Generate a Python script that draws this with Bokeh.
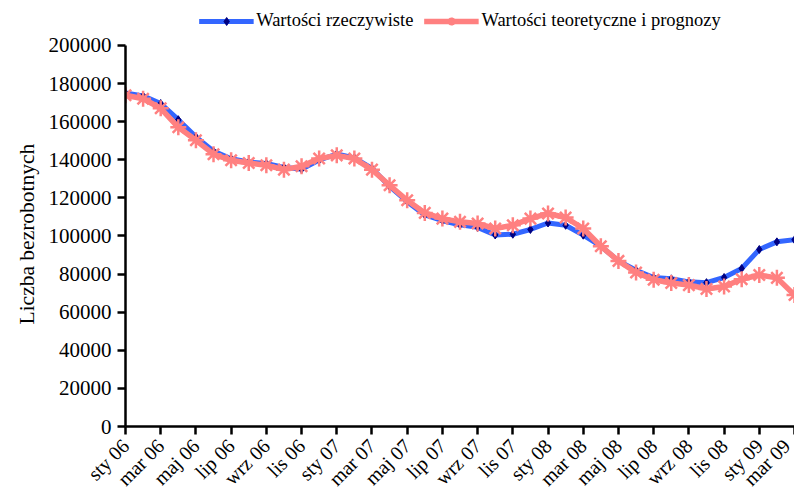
import math
from bokeh.plotting import figure
from bokeh.models import (Range1d, FixedTicker, Legend, LegendItem, Title,
                          NumeralTickFormatter, ColumnDataSource)
from bokeh.embed import file_html
from bokeh.resources import INLINE

# ---- data -------------------------------------------------------------
months = [
    "sty 06", "lut 06", "mar 06", "kwi 06", "maj 06", "cze 06",
    "lip 06", "sie 06", "wrz 06", "paź 06", "lis 06", "gru 06",
    "sty 07", "lut 07", "mar 07", "kwi 07", "maj 07", "cze 07",
    "lip 07", "sie 07", "wrz 07", "paź 07", "lis 07", "gru 07",
    "sty 08", "lut 08", "mar 08", "kwi 08", "maj 08", "cze 08",
    "lip 08", "sie 08", "wrz 08", "paź 08", "lis 08", "gru 08",
    "sty 09", "lut 09", "mar 09",
]
actual = [
    175000, 173500, 169500, 161000, 152000, 144500,
    140500, 138800, 138000, 136000, 135000, 139800,
    143000, 141000, 135500, 126000, 118000, 111000,
    108000, 105800, 104500, 100500, 100900, 103400,
    106800, 105600, 100400, 94600, 86900, 82000,
    78200, 77500, 75900, 75500, 78200, 82900,
    92900, 96900, 98000,
]
fitted = [
    173800, 172000, 167000, 157000, 150200, 142900,
    139700, 138300, 137100, 134800, 136600, 140600,
    142300, 140600, 134800, 126600, 118700, 112100,
    109100, 107400, 106500, 103900, 105600, 109100,
    111800, 109700, 103900, 94600, 86900, 80800,
    77000, 75300, 74200, 72200, 73500, 77300,
    79500, 78000, 69000,
]
y_ticks = [0, 20000, 40000, 60000, 80000, 100000, 120000,
           140000, 160000, 180000, 200000]
label_actual = "Wartości rzeczywiste"
label_fitted = "Wartości teoretyczne i prognozy"
y_title = "Liczba bezrobotnych"

# ---- figure -----------------------------------------------------------
FONT = "Liberation Serif"
x = list(range(len(months)))
src = ColumnDataSource(dict(x=x, actual=actual, fitted=fitted))

# frame spans the full height above the x axis; the value axis stops at 200000
y_top = y_ticks[-1] * 427 / 382

p = figure(width=794, height=500, output_backend="svg", toolbar_location=None,
           x_range=Range1d(0, 38), y_range=Range1d(0, y_top),
           min_border_left=125, min_border_right=0, min_border_top=0,
           min_border_bottom=73)
p.outline_line_color = None
p.xgrid.visible = False
p.ygrid.visible = False
p.background_fill_color = "white"

blue = "#3366ff"
red = "#ff8080"

l1 = p.line("x", "actual", source=src, line_color=blue, line_width=5)
m1 = p.scatter("x", "actual", source=src, marker="diamond", size=8,
               fill_color="#000080", line_color="#000080", line_width=1)
l2 = p.line("x", "fitted", source=src, line_color=red, line_width=5.5)
m2 = p.scatter("x", "fitted", source=src, marker="asterisk", size=16,
               line_color=red, line_width=2.5)

# axes
for ax in (p.xaxis[0], p.yaxis[0]):
    ax.axis_line_width = 2.5
    ax.axis_line_color = "black"
    ax.major_tick_line_width = 2.5
    ax.major_tick_line_color = "black"
    ax.major_tick_out = 8
    ax.major_tick_in = 0
    ax.minor_tick_line_color = None
    ax.major_label_text_font = FONT
    ax.major_label_text_color = "black"

p.yaxis.bounds = (y_ticks[0], y_ticks[-1])
p.yaxis.ticker = FixedTicker(ticks=y_ticks)
p.yaxis.formatter = NumeralTickFormatter(format="0")
p.yaxis.major_label_text_font_size = "21px"
p.yaxis.major_label_standoff = 6

# y-axis title, placed along the value axis (0..200000)
p.add_layout(Title(text=y_title, align="left", offset=102, standoff=14,
                   text_font=FONT, text_font_size="21.5px",
                   text_font_style="normal", text_color="black"), "left")

p.xaxis.ticker = FixedTicker(ticks=x[::2])
p.xaxis.major_label_overrides = {i: months[i] for i in x[::2]}
p.xaxis.major_label_orientation = math.pi / 4
p.xaxis.major_label_text_font_size = "20px"
p.xaxis.major_label_standoff = 8

legend = Legend(items=[LegendItem(label=label_actual, renderers=[l1, m1]),
                       LegendItem(label=label_fitted, renderers=[l2, m2])],
                orientation="horizontal", location="top_center",
                label_text_font=FONT, label_text_font_size="18.5px",
                label_text_color="black",
                glyph_width=55, glyph_height=20, label_standoff=3,
                spacing=10, padding=0, margin=10,
                border_line_color=None, background_fill_alpha=0)
p.add_layout(legend, "center")

open("out.html", "w").write(file_html(p, INLINE))
